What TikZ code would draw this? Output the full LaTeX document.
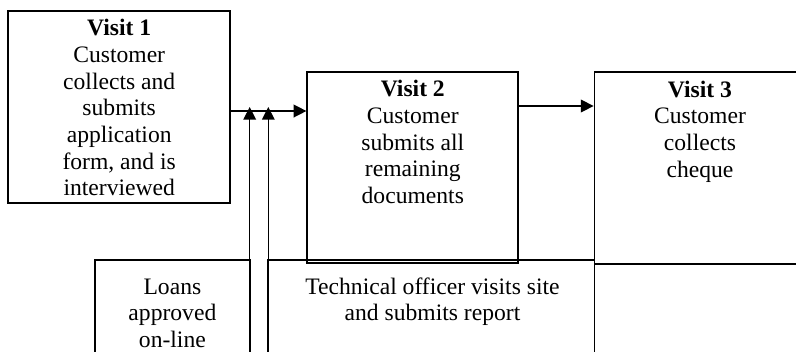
\documentclass[tikz,border=0pt]{standalone}
\usepackage{fontspec}
\setmainfont{Liberation Serif}
\usetikzlibrary{arrows.meta,fit}

% centred stack of lines whose first baseline is the box baseline
\newcommand{\linestack}[1]{\begin{tabular}[t]{@{}c@{}}#1\end{tabular}}

\tikzset{
  boxframe/.style={draw, line width=1.35pt, inner sep=0pt, rectangle},
  label/.style={anchor=base, inner sep=0pt,
    font=\fontsize{17.7pt}{20pt}\selectfont},
  flow/.style={line width=1.05pt, -{Triangle[length=9.5pt,width=9.5pt]}},
}

\begin{document}
\begin{tikzpicture}[x=0.75pt, y=-0.75pt]
  \useasboundingbox (0,0) rectangle (796,351);
  \clip (0,0) rectangle (796,351);

  % upper row: the three visits
  \node[boxframe, fit={(8.3,10.7) (230,202.7)}] (visitone) {};
  \node[boxframe, fit={(307.3,72.3) (518.3,263.3)}] (visittwo) {};
  \node[boxframe, fit={(594.5,72.3) (805.7,264)}] (visitthree) {};

  % lower row: back-office steps
  \node[boxframe, fit={(95,260) (249.7,420)}] (loans) {};
  \node[boxframe, fit={(268.3,260) (594.5,420)}] (techvisit) {};
  \node[boxframe, fit={(594.5,264) (830,420)}] (lowerright) {};

  % texts
  \node[label] (visitonetext) at (119.2,35.7) {\linestack{\textbf{Visit 1}\\Customer\\collects and\\submits\\application\\form, and is\\interviewed}};
  \node[label] (visittwotext) at (412.8,96.9) {\linestack{\textbf{Visit 2}\\Customer\\submits all\\remaining\\documents}};
  \node[label] (visitthreetext) at (700,97.3) {\linestack{\textbf{Visit 3}\\Customer\\collects\\cheque}};
  \node[label] (loanstext) at (172.4,294) {\linestack{Loans\\approved\\on-line}};
  \node[label] (techtext) at (432.5,294) {\linestack{Technical officer visits site\\and submits report}};

  % junction heights of the horizontal flows
  \coordinate (firstflow) at (0,111);
  \coordinate (secondflow) at (0,106);

  % vertical feeds from below
  \coordinate (feedonebottom) at (249.7,420);
  \coordinate (feedonetop) at (249.7,107);
  \coordinate (feedtwobottom) at (268.3,420);
  \coordinate (feedtwotop) at (268.3,107);

  % connectors
  \draw[flow] (visitone.east |- firstflow) -- (visittwo.west |- firstflow);
  \draw[flow] (visittwo.east |- secondflow) -- (visitthree.west |- secondflow);
  \draw[flow] (feedonebottom) -- (feedonetop);
  \draw[flow] (feedtwobottom) -- (feedtwotop);
\end{tikzpicture}
\end{document}
